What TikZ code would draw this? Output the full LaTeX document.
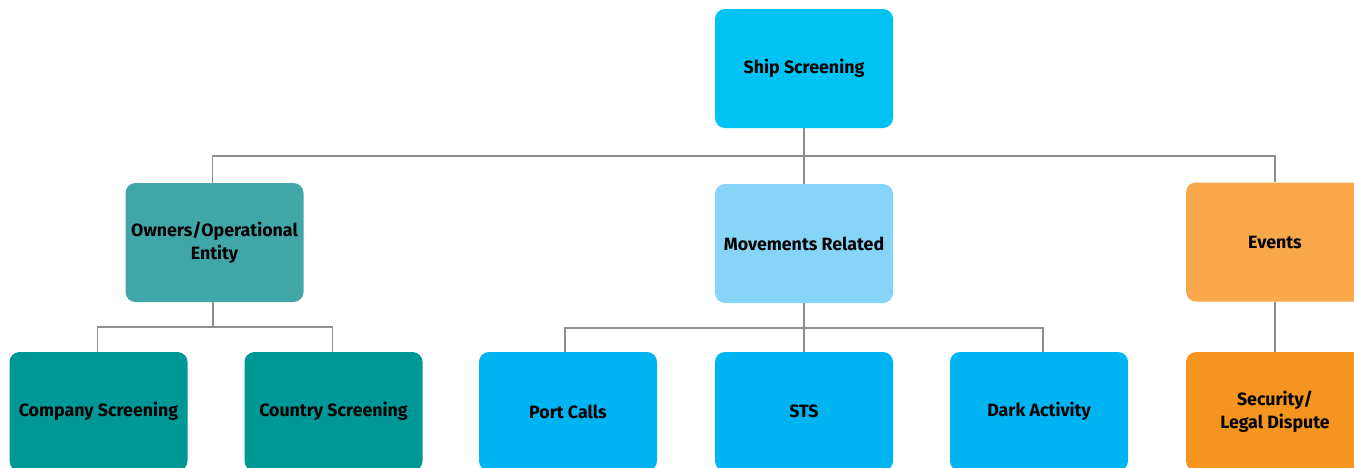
\documentclass[tikz,border=0pt]{standalone}
\usepackage{fontspec}
\setmainfont{Fira Sans}
\definecolor{cship}{HTML}{00C2F3}
\definecolor{cown}{HTML}{41A6A8}
\definecolor{cmov}{HTML}{86D5F8}
\definecolor{cevt}{HTML}{F9A74B}
\definecolor{cteal}{HTML}{009797}
\definecolor{cblue}{HTML}{00B4F1}
\definecolor{corg}{HTML}{F5941F}
\definecolor{cline}{HTML}{8E8E8E}
\begin{document}
\begin{tikzpicture}[x=1pt,y=-1pt,
  box/.style={rectangle, rounded corners=10pt, minimum width=178pt, minimum height=119pt,
    inner sep=1pt, align=center, text=black, font=\fontsize{17.8}{23}\selectfont\bfseries},
  conn/.style={draw=cline, line width=1.5pt}]
\clip (0,0) rectangle (1354,467);
\fill[white] (0,0) rectangle (1354,467);
\node[box, fill=cship] (ship) at (804,68.5) {Ship Screening};
\node[box, fill=cown] (own) at (214.5,242.5) {Owners/Operational\\Entity};
\node[box, fill=cmov] (mov) at (804,243.5) {Movements Related};
\node[box, fill=cevt] (evt) at (1275,242) {Events};
\node[box, fill=cteal] (comp) at (98.5,411.5) {Company Screening};
\node[box, fill=cteal] (ctry) at (333.5,411.5) {Country Screening};
\node[box, fill=cblue] (port) at (568,411.5) {Port Calls};
\node[box, fill=cblue] (sts) at (804,411.5) {STS};
\node[box, fill=cblue] (dark) at (1039,411.5) {Dark Activity};
\node[box, fill=corg] (sec) at (1275,411.5) {Security/\\Legal Dispute};
% level 1
\draw[conn] (ship.south) -- (mov.north);
\draw[conn] ([xshift=-2pt]own.north) -- ++(0,-27) -| (evt.north);
% level 2
\draw[conn] ([xshift=-1.5pt]own.south) -- ++(0,25) coordinate (ob);
\draw[conn] ([xshift=-1pt]comp.north) |- (ob) -| ([xshift=-1pt]ctry.north);
\draw[conn] (mov.south) -- (sts.north);
\draw[conn] ([xshift=-3pt]port.north) |- ([yshift=24pt]sts.north) -| ([xshift=4pt]dark.north);
\draw[conn] (evt.south) -- (sec.north);
\end{tikzpicture}
\end{document}
